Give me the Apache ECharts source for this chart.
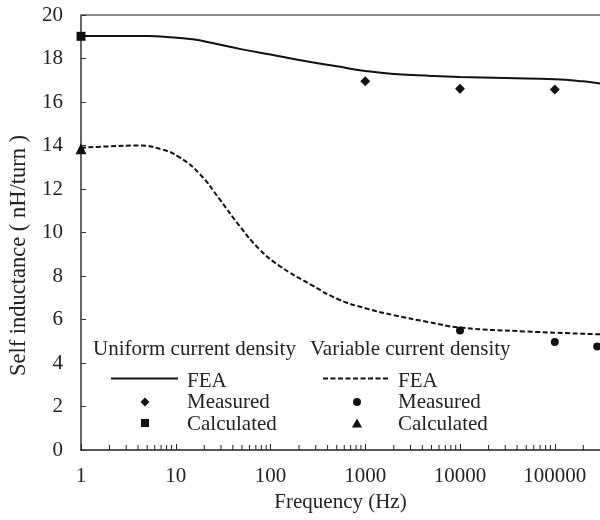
<!DOCTYPE html>
<html><head><meta charset="utf-8">
<script src="https://cdn.jsdelivr.net/npm/echarts@6/dist/echarts.min.js"></script>
<style>html,body{margin:0;padding:0;background:#fff}#c{width:600px;height:520px}</style>
</head><body><div id="c"></div>
<script>
// ---- data ----
const xTickLabels = [1, 10, 100, 1000, 10000, 100000];
const yTickLabels = [0, 2, 4, 6, 8, 10, 12, 14, 16, 18, 20];
const minorTickFreqs = [2,3,4,5,6,7,8,9, 20,30,40,50,60,70,80,90,
  200,300,400,500,600,700,800,900, 2000,3000,4000,5000,6000,7000,8000,9000,
  20000,30000,40000,50000,60000,70000,80000,90000, 200000];
const uniformFEA = [[1,19.03],[2,19.04],[5,19.03],[8,18.99],[15,18.88],[25,18.70],[50,18.42],
  [100,18.18],[200,17.93],[500,17.64],[1000,17.43],[2000,17.29],[5000,17.20],[10000,17.15],
  [30000,17.10],[100000,17.05],[200000,16.95],[300000,16.85]];
const uniformMeasured = [[1000,16.95],[10000,16.61],[100000,16.57]];
const uniformCalculated = [[1,19.02]];
const variableFEA = [[1,13.90],[2,13.96],[4,14.00],[7,13.83],[11,13.45],[18,12.68],[29,11.53],
  [47,10.31],[76,9.24],[123,8.48],[275,7.57],[525,6.92],[1000,6.52],[2040,6.19],[4570,5.89],
  [10000,5.63],[50000,5.45],[300000,5.32]];
const variableMeasured = [[10000,5.50],[100000,4.96],[280000,4.76]];
const variableCalculated = [[1,13.85]];
const groupTitles = ['Uniform current density', 'Variable current density'];
const legendLabels = ['FEA', 'Measured', 'Calculated'];

const FONT = '"Liberation Serif", "Times New Roman", serif';
const TXT = '#222';
const INK = '#111';

function legendGraphics() {
  const g = [];
  const cols = [
    { title: groupTitles[0], tx: 93, lx1: 111, lx2: 178, mx: 145, textX: 187, dash: null,
      m1: { type: 'polygon', shape: { points: [[145, 397.5], [149.5, 402], [145, 406.5], [140.5, 402]] } },
      m2: { type: 'rect', shape: { x: 141, y: 419, width: 8, height: 8 } } },
    { title: groupTitles[1], tx: 310, lx1: 323, lx2: 388, mx: 357, textX: 398, dash: [5, 2.5],
      m1: { type: 'circle', shape: { cx: 357, cy: 402, r: 4 } },
      m2: { type: 'polygon', shape: { points: [[357, 418.5], [362, 427.5], [352, 427.5]] } } }
  ];
  const rowsY = [381, 402.5, 424];
  cols.forEach(c => {
    g.push({ type: 'text', left: c.tx, top: 339, style: { text: c.title, font: '21px ' + FONT, fill: TXT } });
    g.push({ type: 'line', shape: { x1: c.lx1, y1: 378.5, x2: c.lx2, y2: 378.5 },
      style: { stroke: INK, lineWidth: 2, lineDash: c.dash } });
    g.push(Object.assign({}, c.m1, { style: { fill: INK } }));
    g.push(Object.assign({}, c.m2, { style: { fill: INK } }));
    legendLabels.forEach((t, i) => {
      g.push({ type: 'text', x: c.textX, y: rowsY[i],
        style: { text: t, font: '21px ' + FONT, fill: TXT, verticalAlign: 'middle', align: 'left' } });
    });
  });
  return g;
}

const chart = echarts.init(document.getElementById('c'));
chart.setOption({
  backgroundColor: '#fff',
  animation: false,
  grid: { left: 80, right: -3, top: 15, bottom: 70 },
  xAxis: [{
    type: 'log', logBase: 10, min: 1, max: 300000,
    name: 'Frequency (Hz)', nameLocation: 'middle', nameGap: 41,
    nameTextStyle: { fontFamily: FONT, fontSize: 21, color: TXT },
    axisLine: { show: true, lineStyle: { color: '#222', width: 1.5 } },
    axisTick: { show: true, inside: true, length: 6, lineStyle: { color: '#222' } },
    axisLabel: { fontFamily: FONT, fontSize: 21, color: TXT, margin: 16, showMaxLabel: false,
      formatter: v => { const r = Math.round(v); return xTickLabels.indexOf(r) >= 0 ? String(r) : ''; } },
    splitLine: { show: false }
  }, {
    type: 'log', logBase: 10, min: 1, max: 300000, position: 'top',
    axisLine: { show: true, lineStyle: { color: '#8a8a8a', width: 2 } },
    axisTick: { show: false }, axisLabel: { show: false }, splitLine: { show: false }
  }],
  yAxis: {
    type: 'value', min: 0, max: 20, interval: 2,
    name: 'Self inductance ( nH/turn )', nameLocation: 'middle', nameGap: 50,
    nameTextStyle: { fontFamily: FONT, fontSize: 22.5, color: TXT, padding: [0, 46, 0, 0] },
    axisLine: { show: true, lineStyle: { color: '#333', width: 1.5 } },
    axisTick: { show: true, inside: true, length: 5, lineStyle: { color: '#333' } },
    axisLabel: { fontFamily: FONT, fontSize: 21, color: TXT, margin: 18,
      formatter: v => (yTickLabels.indexOf(v) >= 0 ? String(v) : '') },
    splitLine: { show: false }
  },
  graphic: legendGraphics(),
  series: [
    { name: 'Uniform FEA', type: 'line', data: uniformFEA, smooth: 0.5,
      symbol: 'none', lineStyle: { color: INK, width: 2, type: 'solid' }, itemStyle: { color: INK } },
    { name: 'Uniform Measured', type: 'scatter', data: uniformMeasured, symbol: 'diamond', symbolSize: 10,
      itemStyle: { color: INK, opacity: 1 }, clip: false },
    { name: 'Uniform Calculated', type: 'scatter', data: uniformCalculated, symbol: 'rect', symbolSize: 9,
      itemStyle: { color: INK, opacity: 1 }, clip: false },
    { name: 'Variable FEA', type: 'line', data: variableFEA, smooth: 0.5,
      symbol: 'none', lineStyle: { color: INK, width: 2, type: [5, 2.5] }, itemStyle: { color: INK } },
    { name: 'Variable Measured', type: 'scatter', data: variableMeasured, symbol: 'circle', symbolSize: 8,
      itemStyle: { color: INK, opacity: 1 }, clip: false },
    { name: 'Variable Calculated', type: 'scatter', data: variableCalculated, symbol: 'triangle', symbolSize: 11,
      itemStyle: { color: INK, opacity: 1 }, clip: false },
    { name: 'minorTicks', type: 'custom', silent: true, clip: false,
      data: minorTickFreqs.map(f => [f, 0]),
      renderItem: (params, api) => {
        const p = api.coord([api.value(0), 0]);
        return { type: 'line', shape: { x1: p[0], y1: p[1], x2: p[0], y2: p[1] - 5 },
          style: { stroke: '#222', lineWidth: 1 } };
      } }
  ]
});
</script>
</body></html>
